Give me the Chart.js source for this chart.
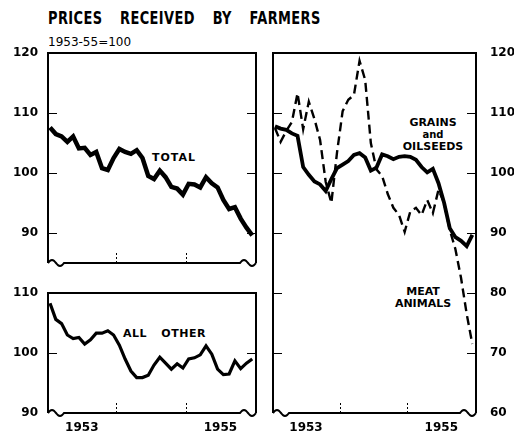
<!DOCTYPE html>
<html><head><meta charset="utf-8">
<script src="https://cdn.jsdelivr.net/npm/chart.js@4.4.0/dist/chart.umd.min.js"></script>
<style>
html,body{margin:0;padding:0;background:#fff;}
body{width:514px;height:437px;position:relative;overflow:hidden;font-family:"DejaVu Sans",sans-serif;color:#000;}
canvas{position:absolute;}
.lbl{position:absolute;font-weight:bold;white-space:nowrap;line-height:1;color:#000;}
</style></head><body>
<div class="lbl" style="left:48px;top:9px;font-size:18px;font-family:'DejaVu Sans Condensed','DejaVu Sans',sans-serif;letter-spacing:0.5px;word-spacing:16px;transform:scaleX(0.8);transform-origin:0 0;">PRICES RECEIVED BY FARMERS</div>
<div class="lbl" style="left:48px;top:36px;font-size:12px;font-weight:normal;">1953-55=100</div>
<div class="lbl" style="left:152px;top:152px;font-size:11px;letter-spacing:1px;">TOTAL</div>
<div class="lbl" style="left:123px;top:328px;font-size:11px;letter-spacing:0.5px;word-spacing:10px;">ALL OTHER</div>
<div class="lbl" style="left:393px;top:117px;width:80px;text-align:center;font-size:11px;line-height:12px;">GRAINS<br><span style="font-size:10px;">and</span><br>OILSEEDS</div>
<div class="lbl" style="left:383px;top:286px;width:80px;text-align:center;font-size:11px;line-height:12px;">MEAT<br>ANIMALS</div>

<canvas id="cTotal" width="270" height="240" style="left:0;top:40px;width:270px;height:240px;"></canvas>
<canvas id="cOther" width="270" height="157" style="left:0;top:280px;width:270px;height:157px;"></canvas>
<canvas id="cRight" width="254" height="397" style="left:260px;top:40px;width:254px;height:397px;"></canvas>

<script>
// ---- data (monthly, Jan 1953 - Dec 1955), index 1953-55 = 100 ----
const months = ['1953-01','1953-02','1953-03','1953-04','1953-05','1953-06','1953-07','1953-08','1953-09','1953-10','1953-11','1953-12',
                '1954-01','1954-02','1954-03','1954-04','1954-05','1954-06','1954-07','1954-08','1954-09','1954-10','1954-11','1954-12',
                '1955-01','1955-02','1955-03','1955-04','1955-05','1955-06','1955-07','1955-08','1955-09','1955-10','1955-11','1955-12'];
const years = ['1953','1954','1955'];
const yearLabelsShown = ['1953','1955'];

const total    = [107.6,106.5,106.1,105.2,106.1,104.1,104.2,103.0,103.5,100.8,100.5,102.5,
                  104.0,103.5,103.2,103.8,102.5,99.5,99.0,100.4,99.3,97.7,97.4,96.4,
                  98.2,98.1,97.6,99.3,98.3,97.6,95.5,94.0,94.3,92.4,90.9,89.6];
const allOther = [108.3,105.6,104.9,103.0,102.4,102.6,101.5,102.2,103.3,103.3,103.7,103.0,
                  101.3,99.0,97.0,95.9,95.9,96.3,98.0,99.3,98.3,97.3,98.2,97.5,
                  99.0,99.2,99.7,101.2,99.8,97.3,96.4,96.5,98.7,97.4,98.3,99.0];
const grains   = [107.8,107.4,107.2,106.6,106.2,101.0,99.7,98.6,98.1,97.0,99.0,100.8,
                  101.4,102.0,103.0,103.3,102.6,100.4,100.9,103.1,102.8,102.3,102.7,102.8,
                  102.7,102.2,101.0,100.1,100.7,98.3,95.0,90.8,89.3,88.7,87.8,89.7];
const meat     = [107.5,105.2,107.0,108.5,113.3,107.3,111.9,109.0,105.5,98.5,95.0,103.4,
                  110.3,112.2,113.0,118.7,115.5,105.0,100.6,99.5,96.5,94.2,93.0,90.2,
                  93.6,94.2,93.0,95.5,93.3,97.2,95.0,90.5,87.3,82.5,76.5,71.5];

const ticksTotal = [90,100,110,120];
const ticksOther = [90,100,110];
const ticksRight = [60,70,80,90,100,110,120];

// ---- helpers ----
const pts = arr => arr.map((v,i)=>({x:i,y:v}));
const yearCenter = y => years.indexOf(y)*12 + 5.5;
const yearBoundaries = years.slice(1).map(y => years.indexOf(y)*12 - 0.5);

const decor = {
  id:'decor',
  afterDraw(chart, args, o){
    const {ctx, chartArea:a, scales} = chart;
    ctx.save();
    ctx.strokeStyle = '#000';
    ctx.lineCap = 'butt';
    ctx.lineWidth = 2;
    ctx.beginPath();
    ctx.moveTo(a.left, a.bottom); ctx.lineTo(a.left, a.top);
    ctx.lineTo(a.right, a.top); ctx.lineTo(a.right, a.bottom);
    ctx.stroke();
    const b = a.bottom, w = 16;
    ctx.beginPath();
    ctx.moveTo(a.left, b);
    for (let t=0;t<=w;t++) ctx.lineTo(a.left+t, b - 3*Math.sin(Math.PI*2*t/w));
    ctx.lineTo(a.right-w, b);
    for (let t=0;t<=w;t++) ctx.lineTo(a.right-w+t, b - 3*Math.sin(Math.PI*2*t/w));
    ctx.stroke();
    ctx.lineWidth = 1;
    (o.marks||[]).forEach(v=>{
      const y = Math.round(scales.y.getPixelForValue(v))+0.5;
      ctx.beginPath();
      ctx.moveTo(a.left, y); ctx.lineTo(a.left+9, y);
      ctx.moveTo(a.right-9, y); ctx.lineTo(a.right, y);
      ctx.stroke();
    });
    ctx.setLineDash([2,2]);
    yearBoundaries.forEach(v=>{
      const x = Math.round(scales.x.getPixelForValue(v))+0.5;
      ctx.beginPath();
      ctx.moveTo(x, b); ctx.lineTo(x, b-10);
      ctx.stroke();
    });
    ctx.restore();
  }
};

const tickFont = {family:"'DejaVu Sans', sans-serif", size:12, weight:'bold'};

function makeChart(id, datasets, yMin, yMax, yTicks, marks, opt){
  return new Chart(document.getElementById(id), {
    type:'line',
    data:{datasets},
    options:{
      responsive:false, animation:false, devicePixelRatio:1,
      layout:{padding:opt.padding},
      plugins:{legend:{display:false}, tooltip:{enabled:false}, decor:{marks}},
      elements:{point:{radius:0}, line:{tension:0, borderJoinStyle:'miter', borderCapStyle:'butt'}},
      scales:{
        x:{type:'linear', min:-0.35, max:35.65, display:opt.showX,
           grid:{display:false, drawTicks:false}, border:{display:false},
           afterBuildTicks: ax => { ax.ticks = yearLabelsShown.map(y=>({value:yearCenter(y)})); },
           afterFit: ax => { if (opt.showX) ax.height = 24; ax.paddingLeft = 0; ax.paddingRight = 0; },
           ticks:{color:'#000', font:{family:"'DejaVu Sans', sans-serif", size:12, weight:'bold'}, padding:8, maxRotation:0, autoSkip:false,
                  callback: v => years[Math.round((v-5.5)/12)]}},
        y:{type:'linear', min:yMin, max:yMax, position:opt.yPos,
           grid:{display:false, drawTicks:false}, border:{display:false},
           afterBuildTicks: ax => { ax.ticks = yTicks.map(v=>({value:v})); },
           afterFit: ax => { ax.width = opt.yWidth; ax.paddingTop = 0; ax.paddingBottom = 0; },
           ticks:{color:'#000', font:tickFont, padding:opt.yPad}}
      }
    },
    plugins:[decor]
  });
}

makeChart('cTotal', [
  {data:pts(total), borderColor:'#000', borderWidth:4.5}
], 85, 120, ticksTotal, [90,100,110], {padding:{left:0,top:13,right:14,bottom:17}, showX:false, yPos:'left', yWidth:48, yPad:10});

makeChart('cOther', [
  {data:pts(allOther), borderColor:'#000', borderWidth:3.2}
], 90, 110, ticksOther, [100], {padding:{left:0,top:13,right:14,bottom:0}, showX:true, yPos:'left', yWidth:48, yPad:10});

makeChart('cRight', [
  {data:pts(meat), borderColor:'#000', borderWidth:2.4, borderDash:[9,5]},
  {data:pts(grains), borderColor:'#000', borderWidth:3.8}
], 60, 120, ticksRight, [70,80,90,100,110], {padding:{left:13,top:13,right:0,bottom:0}, showX:true, yPos:'right', yWidth:38, yPad:14});
</script>
</body></html>
